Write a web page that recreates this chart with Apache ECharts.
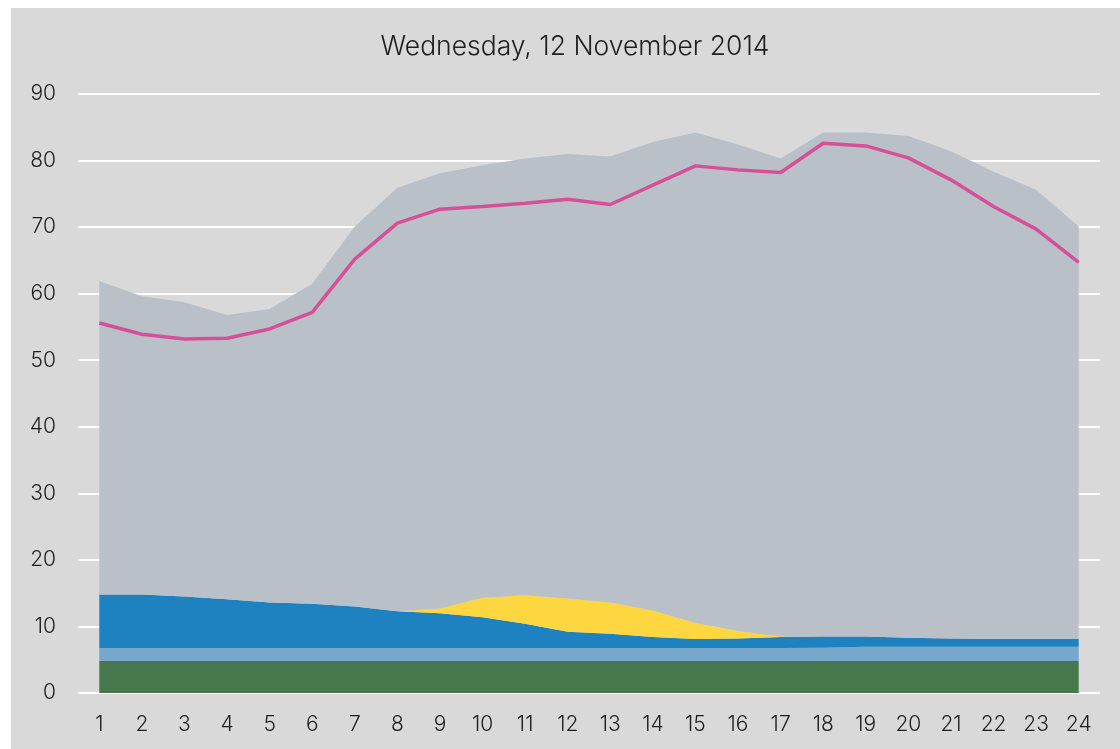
<!DOCTYPE html>
<html><head><meta charset="utf-8">
<script src="https://cdn.jsdelivr.net/npm/echarts@6/dist/echarts.min.js"></script>
<style>
html,body{margin:0;padding:0;background:#fff;}
#panel{position:absolute;left:11px;top:8px;width:1109px;height:741px;background:#d9d9d9;}
#chart{position:absolute;left:0;top:0;width:1120px;height:749px;}
</style></head>
<body>
<div id="panel"></div>
<div id="chart"></div>
<script>
const hours = ['1','2','3','4','5','6','7','8','9','10','11','12','13','14','15','16','17','18','19','20','21','22','23','24'];
const yTicks = [0,10,20,30,40,50,60,70,80,90];
// stacked layers (bottom to top)
const baseGreen = [4.8,4.8,4.8,4.8,4.8,4.8,4.8,4.8,4.8,4.8,4.8,4.8,4.8,4.8,4.8,4.8,4.8,4.8,4.8,4.8,4.8,4.8,4.8,4.8];
const lightBlue = [1.95,1.95,1.95,1.95,1.95,1.95,1.95,1.95,1.95,1.95,1.95,1.95,1.95,1.95,1.95,1.95,1.95,2.0,2.15,2.15,2.15,2.15,2.15,2.15];
const blue = [8.05,8.05,7.75,7.35,6.85,6.65,6.25,5.55,5.25,4.65,3.65,2.45,2.15,1.65,1.35,1.45,1.65,1.7,1.55,1.35,1.25,1.15,1.15,1.15];
const solar = [0,0,0,0,0,0,0,0,0.7,2.9,4.3,5.0,4.7,4.0,2.4,1.1,0.1,0,0,0,0,0,0,0];
const grey = [47.1,44.8,44.2,42.7,44.1,48.1,57.1,63.6,65.4,65.0,65.6,66.8,67.0,70.4,73.7,73.1,71.8,75.7,75.7,75.4,73.2,70.2,67.5,62.0];
// line
const demand = [55.6,53.9,53.2,53.3,54.7,57.2,65.2,70.6,72.7,73.1,73.6,74.2,73.4,76.3,79.2,78.6,78.2,82.6,82.2,80.4,77.1,73.1,69.7,64.7];

const FONT = 'Inter';
function area(name, data, color){
  return {name, type:'line', stack:'total', data, symbol:'none', smooth:false,
    lineStyle:{width:0}, areaStyle:{color, opacity:1}, itemStyle:{color}, emphasis:{disabled:true}};
}
const chart = echarts.init(document.getElementById('chart'), null, {renderer:'canvas'});
chart.setOption({
  backgroundColor:'transparent',
  animation:false,
  title:{text:'Wednesday, 12 November 2014', left:570, textAlign:'center', top:29,
    textStyle:{fontFamily:FONT, fontWeight:300, fontSize:26.5, color:'#1e1e1e'}},
  grid:{left:78, right:20, top:94, bottom:56, containLabel:false},
  xAxis:{type:'category', data:hours, boundaryGap:true,
    axisLine:{show:false}, axisTick:{show:false},
    axisLabel:{fontFamily:FONT, fontWeight:300, fontSize:21, color:'#1e1e1e', margin:21, interval:0}},
  yAxis:{type:'value', min:yTicks[0], max:yTicks[yTicks.length-1], interval:10,
    axisLine:{show:false}, axisTick:{show:false},
    axisLabel:{fontFamily:FONT, fontWeight:300, fontSize:21, color:'#1e1e1e', margin:22},
    splitLine:{lineStyle:{color:'#ffffff', width:2}}},
  series:[
    area('Base', baseGreen, '#46784c'),
    area('Light blue', lightBlue, '#78a7cc'),
    area('Blue', blue, '#1f82c0'),
    area('Solar', solar, '#fed640'),
    area('Other', grey, '#b9c0c7'),
    {name:'Demand', type:'line', data:demand, symbol:'none', z:5,
      lineStyle:{color:'#d64f98', width:3.5}, itemStyle:{color:'#d64f98'}}
  ]
});
</script>
</body></html>
